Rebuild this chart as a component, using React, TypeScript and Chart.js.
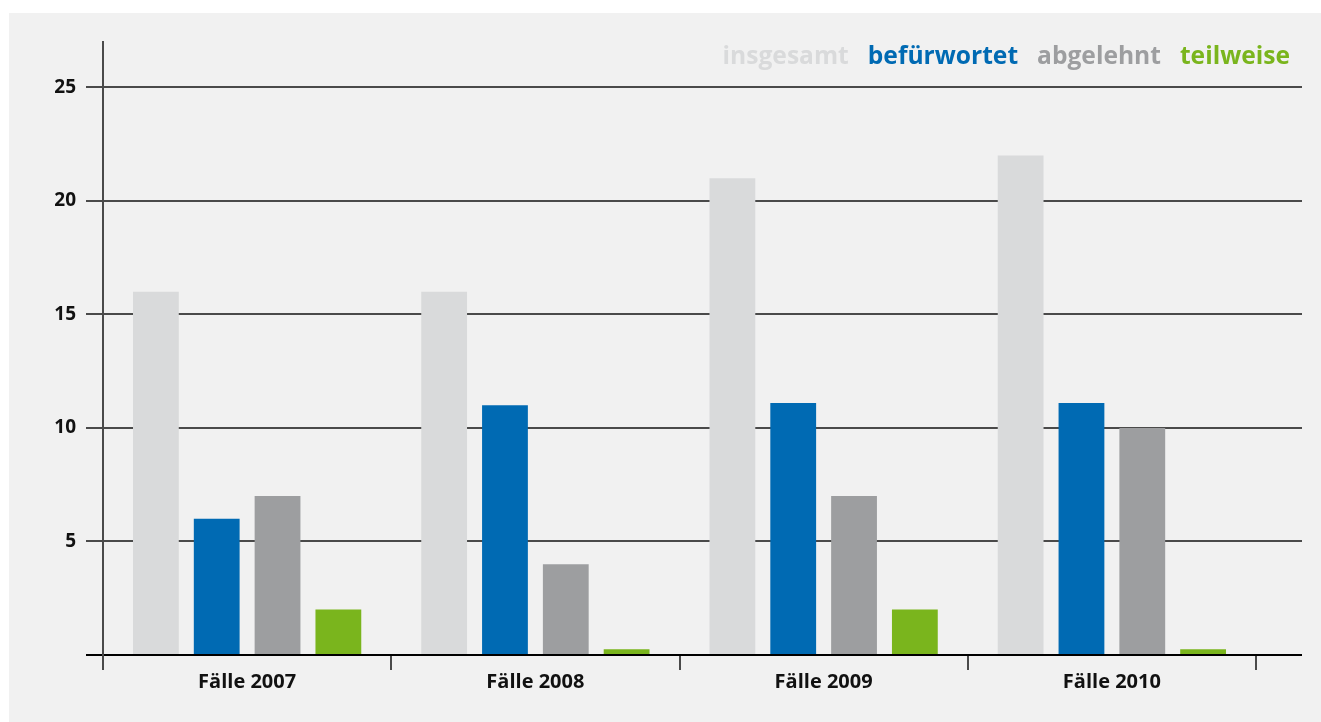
import { useEffect, useRef } from 'react';
import { Chart, registerables } from 'chart.js';

Chart.register(...registerables);

const categories = ['Fälle 2007', 'Fälle 2008', 'Fälle 2009', 'Fälle 2010'];
const seriesLabels = ['insgesamt', 'befürwortet', 'abgelehnt', 'teilweise'];
const insgesamt = [16, 16, 21, 22];
const befuerwortet = [6, 11, 11.1, 11.1];
const abgelehnt = [7, 4, 7, 10];
const teilweise = [2, 0.25, 2, 0.25];
const yTicks = [0, 5, 10, 15, 20, 25];
const yMax = 27;

const seriesColors = ['#d9dadb', '#006ab3', '#9d9ea0', '#7ab51d'];
const FONT = '"Open Sans", "Noto Sans", sans-serif';
const GRID = '#4a4a4a';

function alignPixel(pixel: number, width: number) {
  const half = width / 2;
  return Math.round(pixel - half) + half;
}

export default function App() {
  const ref = useRef<HTMLCanvasElement>(null);

  useEffect(() => {
    if (!ref.current) return;

    const legendPlugin = {
      id: 'textLegend',
      afterDraw(chart: any) {
        const ctx = chart.ctx;
        ctx.save();
        ctx.font = `bold 24.6px ${FONT}`;
        ctx.textBaseline = 'alphabetic';
        ctx.textAlign = 'right';
        let x = 1290;
        const ds = chart.data.datasets;
        for (let i = ds.length - 1; i >= 0; i--) {
          ctx.fillStyle = ds[i].backgroundColor;
          ctx.fillText(ds[i].label, x, 64);
          x -= ctx.measureText(ds[i].label).width + 19;
        }
        ctx.restore();
      },
    };

    const gridExtPlugin = {
      id: 'gridExt',
      beforeDatasetsDraw(chart: any) {
        const ctx = chart.ctx;
        const yScale = chart.scales.y;
        const right = chart.chartArea.right;
        ctx.save();
        yScale.ticks.forEach((t: any) => {
          const py = alignPixel(yScale.getPixelForValue(t.value), 2);
          ctx.beginPath();
          ctx.strokeStyle = t.value === 0 ? '#000' : GRID;
          ctx.lineWidth = 2;
          ctx.moveTo(right - 1, py);
          ctx.lineTo(1302, py);
          ctx.stroke();
        });
        ctx.restore();
      },
    };

    const chart = new Chart(ref.current, {
      type: 'bar',
      data: {
        labels: categories,
        datasets: [
          { label: seriesLabels[0], data: insgesamt, backgroundColor: seriesColors[0] },
          { label: seriesLabels[1], data: befuerwortet, backgroundColor: seriesColors[1] },
          { label: seriesLabels[2], data: abgelehnt, backgroundColor: seriesColors[2] },
          { label: seriesLabels[3], data: teilweise, backgroundColor: seriesColors[3] },
        ],
      },
      options: {
        responsive: false,
        maintainAspectRatio: false,
        animation: false,
        categoryPercentage: 0.844,
        barPercentage: 0.753,
        layout: { padding: { top: 42, right: 65, left: 0, bottom: 0 } },
        plugins: {
          legend: { display: false },
          tooltip: { enabled: false },
        },
        scales: {
          x: {
            afterFit: (s: any) => {
              s.height = 67;
            },
            grid: {
              offset: true,
              drawOnChartArea: false,
              drawTicks: true,
              tickLength: 15,
              color: GRID,
              lineWidth: 2,
            },
            border: { display: true, color: '#000', width: 2 },
            ticks: {
              color: '#111',
              font: { family: FONT, size: 20, weight: 'bold' },
              padding: 0,
            },
          },
          y: {
            min: 0,
            max: yMax,
            afterFit: (s: any) => {
              s.width = 103;
            },
            afterBuildTicks: (s: any) => {
              s.ticks = yTicks.map((v) => ({ value: v }));
            },
            grid: {
              drawOnChartArea: true,
              drawTicks: true,
              tickLength: 17,
              color: (c: any) => (c.tick && c.tick.value === 0 ? '#000' : GRID),
              lineWidth: 2,
            },
            border: { display: true, color: GRID, width: 2 },
            ticks: {
              color: '#111',
              font: { family: FONT, size: 19, weight: 'bold' },
              padding: 10,
              callback: (v: any) => (v === 0 ? '' : String(v)),
            },
          },
        },
      } as any,
      plugins: [legendPlugin, gridExtPlugin],
    });

    return () => chart.destroy();
  }, []);

  return (
    <div style={{ position: 'absolute', left: 0, top: 0, width: 1321, height: 722, background: '#fff', overflow: 'hidden' }}>
      <div style={{ position: 'absolute', left: 9, top: 13, right: 0, bottom: 0, background: '#f1f1f1' }} />
      <canvas ref={ref} width={1321} height={722} style={{ position: 'absolute', left: 0, top: 0, display: 'block' }} />
    </div>
  );
}
